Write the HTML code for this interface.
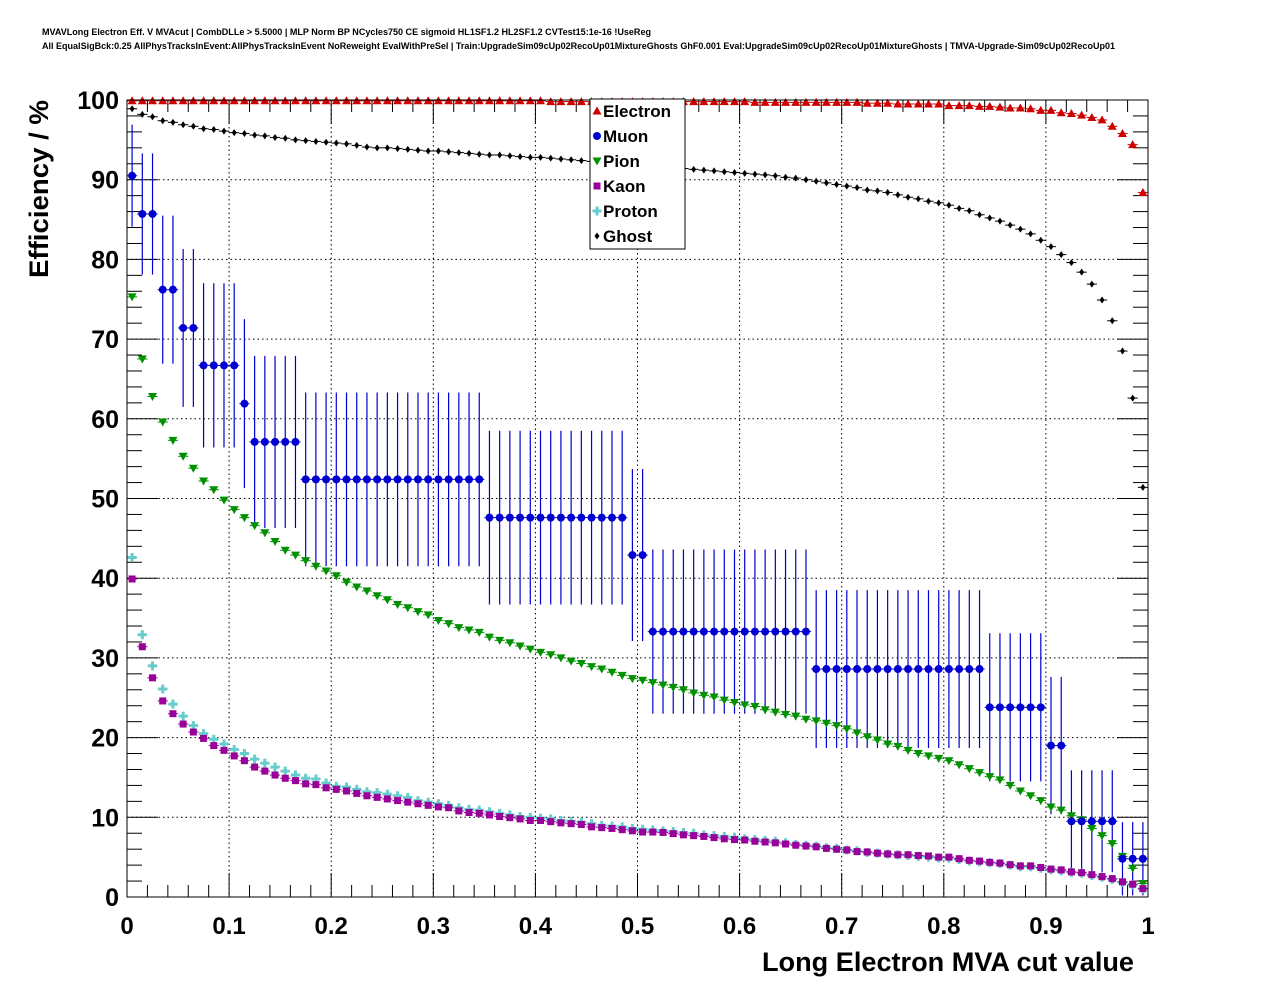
<!DOCTYPE html>
<html><head><meta charset="utf-8">
<style>
html,body{margin:0;padding:0;background:#fff;}
svg{display:block;font-family:"Liberation Sans",Arial,sans-serif;}
</style></head>
<body>
<svg id="chart" width="1276" height="996" viewBox="0 0 1276 996" xmlns="http://www.w3.org/2000/svg">
<rect x="0" y="0" width="1276" height="996" fill="#fff"/>
<text x="42" y="35" font-size="9" font-weight="bold" textLength="609" lengthAdjust="spacingAndGlyphs">MVAVLong Electron Eff. V MVAcut | CombDLLe &gt; 5.5000 | MLP Norm BP NCycles750 CE sigmoid HL1SF1.2 HL2SF1.2 CVTest15:1e-16 !UseReg</text>
<text x="42" y="49" font-size="9" font-weight="bold" textLength="1073" lengthAdjust="spacingAndGlyphs">All EqualSigBck:0.25 AllPhysTracksInEvent:AllPhysTracksInEvent NoReweight EvalWithPreSel | Train:UpgradeSim09cUp02RecoUp01MixtureGhosts GhF0.001 Eval:UpgradeSim09cUp02RecoUp01MixtureGhosts | TMVA-Upgrade-Sim09cUp02RecoUp01</text>
<g id="grid"></g>
<g id="ticks"></g>
<g id="series"></g>
<rect x="127" y="100" width="1021" height="797" fill="none" stroke="#000" stroke-width="1"/>
<text x="1134" y="971" font-size="27" font-weight="bold" text-anchor="end" textLength="372" lengthAdjust="spacingAndGlyphs">Long Electron MVA cut value</text>
<text transform="translate(48,189) rotate(-90)" font-size="27" font-weight="bold" text-anchor="middle" textLength="178" lengthAdjust="spacingAndGlyphs">Efficiency / %</text>
<g id="legend"></g>
</svg>
<script>
const xTickLabels = ["0","0.1","0.2","0.3","0.4","0.5","0.6","0.7","0.8","0.9","1"];
const yTickLabels = ["0","10","20","30","40","50","60","70","80","90","100"];
const seriesNames = ["Electron","Muon","Pion","Kaon","Proton","Ghost"];
const electron = [99.9,99.9,99.9,99.9,99.9,99.9,99.9,99.9,99.9,99.9,99.9,99.9,99.9,99.9,99.9,99.9,99.9,99.9,99.9,99.9,99.9,99.9,99.9,99.9,99.9,99.9,99.9,99.9,99.9,99.9,99.9,99.9,99.9,99.9,99.9,99.9,99.9,99.9,99.9,99.9,99.9,
99.8,99.8,99.8,99.8,99.8,99.8,99.8,99.8,99.8,99.8,99.8,99.8,99.8,99.8,99.8,99.8,99.8,99.8,99.8,99.8,
99.7,99.7,99.7,99.7,99.7,99.7,99.7,99.7,99.7,99.7,99.7,
99.6,99.6,99.6,99.5,99.5,99.5,99.5,99.5,99.3,99.3,99.3,99.2,99.2,99.1,99.0,99.0,98.9,98.7,98.7,98.4,98.3,98.1,97.8,97.5,96.7,95.8,94.4,88.4];
const ghost = [98.9,98.2,97.9,97.4,97.2,96.9,96.7,96.4,96.3,96.1,95.9,95.8,95.6,95.5,95.3,95.2,95.0,94.9,94.8,94.7,94.6,94.5,94.3,94.1,94.0,94.0,93.9,93.8,
93.7,93.6,93.6,93.5,93.4,93.3,93.2,93.1,93.1,93.0,92.9,92.8,92.8,92.7,92.6,92.5,92.4,92.3,92.2,92.1,92.0,91.9,91.8,91.7,91.6,91.5,91.4,91.3,91.2,91.1,91.0,90.9,90.8,90.7,90.6,90.5,90.3,90.2,90.0,89.8,89.6,89.4,89.2,89.0,
88.7,88.6,88.4,88.1,87.8,87.6,87.3,87.1,86.8,86.4,86.1,85.6,85.2,84.8,84.3,83.8,83.2,82.4,81.6,80.6,79.6,78.4,76.9,74.9,72.3,68.5,62.6,51.4];
const pion = [75.3,67.5,62.8,59.6,57.3,55.3,53.8,52.2,51.1,49.8,48.6,47.6,46.6,45.7,44.6,43.5,42.9,42.2,41.5,40.9,40.3,39.5,38.9,38.4,37.8,37.3,36.7,36.3,
35.8,35.4,34.7,34.3,33.8,33.5,33.2,32.6,32.2,31.9,31.5,31.1,30.7,30.4,30.0,29.6,29.3,28.9,28.6,28.2,27.8,27.4,27.2,26.9,26.6,26.3,26.0,25.6,25.3,25.1,24.7,24.4,24.1,23.9,23.5,23.2,22.9,
22.7,22.3,22.1,21.8,21.5,21.1,20.6,20.1,19.7,19.2,18.9,18.4,18.0,17.7,17.4,17.1,16.6,16.1,15.6,15.1,14.7,14.0,13.3,12.7,12.1,11.3,10.9,10.2,9.7,8.6,7.7,6.7,5.1,3.6,1.7];
const kaon = [39.9,31.4,27.5,24.6,23.0,21.7,20.7,19.9,19.0,18.4,17.7,17.1,16.3,15.8,15.3,14.9,14.6,14.2,14.1,13.7,13.5,13.3,13.0,12.7,12.5,12.3,12.1,11.9,
11.7,11.5,11.3,11.2,10.8,10.6,10.5,10.3,10.1,9.95,9.8,9.6,9.6,9.45,9.3,9.2,9.1,8.8,8.7,8.6,8.45,8.3,8.15,8.15,8.1,7.95,7.8,7.7,7.6,7.45,7.3,7.2,7.15,7.0,6.9,6.8,6.65,
6.5,6.4,6.3,6.1,6.0,5.9,5.7,5.65,5.5,5.4,5.3,5.3,5.2,5.15,5.0,5.0,4.8,4.6,4.5,4.35,4.25,4.05,3.9,3.9,3.7,3.5,3.4,3.15,3.05,2.8,2.55,2.3,1.9,1.6,1.05];
const proton = [42.6,32.9,29.0,26.1,24.2,22.7,21.5,20.5,19.8,19.2,18.5,18.0,17.3,16.8,16.3,15.8,15.3,14.9,14.8,14.3,13.9,13.8,13.5,13.2,13.1,12.9,12.7,12.5,
12.1,11.9,11.7,11.5,11.2,11.0,10.9,10.7,10.5,10.3,10.1,10.0,9.9,9.8,9.6,9.5,9.4,9.2,9.0,8.9,8.8,8.6,8.5,8.4,8.3,8.2,8.1,8.0,7.8,7.7,7.6,7.5,7.3,7.2,7.1,7.0,6.8,
6.6,6.5,6.4,6.2,6.1,5.9,5.8,5.6,5.5,5.4,5.3,5.2,5.1,5.0,4.9,4.9,4.7,4.5,4.4,4.3,4.2,4.0,3.8,3.8,3.6,3.4,3.3,3.1,3.0,2.7,2.5,2.2,1.8,1.5,1.0];
const muonLevels = [90.5,85.7,76.2,71.4,66.7,61.9,57.1,52.4,47.6,42.9,33.3,28.6,23.8,19.0,9.5,4.8];
const muonRunLengths = [1,2,2,2,4,1,5,18,14,2,16,17,6,2,5,3];
const muonErrors = [6.4,7.6,9.3,9.9,10.3,10.6,10.8,10.9,10.9,10.8,10.3,9.9,9.3,8.6,6.4,4.6];

const NS='http://www.w3.org/2000/svg';
const X0=127,X1=1148,Y0=897,Y1=100;
const xs=v=>X0+(X1-X0)*v;
const ys=v=>Y0-(Y0-Y1)*v/100;
function mk(tag,attrs,parent){const e=document.createElementNS(NS,tag);for(const k in attrs)e.setAttribute(k,attrs[k]);parent.appendChild(e);return e;}
const grid=document.getElementById('grid'),ticks=document.getElementById('ticks'),ser=document.getElementById('series'),leg=document.getElementById('legend');
const svg=document.getElementById('chart');

xTickLabels.forEach((lab,i)=>{
  const v=i/10,x=xs(v);
  if(i>0&&i<10){const g=mk('line',{x1:x,y1:Y1,x2:x,y2:Y0,stroke:'#000','stroke-width':1,'stroke-dasharray':'1.5,3'},grid);
  
  }
  const t=mk('text',{x:x,y:934,'font-size':24,'font-weight':'bold','text-anchor':'middle'},svg);
  t.textContent=lab;
  
  
});
yTickLabels.forEach((lab,i)=>{
  const v=i*10,y=ys(v);
  if(i>0&&i<10){const g=mk('line',{x1:X0,y1:y,x2:X1,y2:y,stroke:'#000','stroke-width':1,'stroke-dasharray':'1.5,3'},grid);
  
  }
  const t=mk('text',{x:119,y:y+9,'font-size':25,'font-weight':'bold','text-anchor':'end'},svg);
  t.textContent=lab;
  
  
});
for(let k=0;k<=50;k++){
  const x=xs(k/50),major=k%5===0,L=major?24:12;
  mk('line',{x1:x,y1:Y0,x2:x,y2:Y0-L,stroke:'#000','stroke-width':1},ticks);
  mk('line',{x1:x,y1:Y1,x2:x,y2:Y1+L,stroke:'#000','stroke-width':1},ticks);
}
for(let k=0;k<=50;k++){
  const y=ys(k*2),major=k%5===0,L=major?31:15;
  mk('line',{x1:X0,y1:y,x2:X0+L,y2:y,stroke:'#000','stroke-width':1},ticks);
  mk('line',{x1:X1,y1:y,x2:X1-L,y2:y,stroke:'#000','stroke-width':1},ticks);
}

function marker(type,cx,cy,color,parent){
  let e;
  if(type==='tri') e=mk('polygon',{points:`${cx-4.5},${cy+3.5} ${cx+4.5},${cy+3.5} ${cx},${cy-4.5}`,fill:color},parent);
  else if(type==='itri') e=mk('polygon',{points:`${cx-4.5},${cy-3.5} ${cx+4.5},${cy-3.5} ${cx},${cy+4.5}`,fill:color},parent);
  else if(type==='circ') e=mk('circle',{cx:cx,cy:cy,r:4,fill:color},parent);
  else if(type==='sq') e=mk('rect',{x:cx-3.5,y:cy-3.5,width:7,height:7,fill:color},parent);
  else if(type==='cross') e=mk('path',{d:`M${cx-1.5},${cy-4.5}h3v3h3v3h-3v3h-3v-3h-3v-3h3z`,fill:color},parent);
  else e=mk('path',{d:`M${cx},${cy-3.5}L${cx+2.5},${cy}L${cx},${cy+3.5}L${cx-2.5},${cy}z`,fill:color},parent);
  return e;
}
const binW=(X1-X0)/100;
function drawSeries(vals,type,color,name){
  const g=mk('g',{},ser);
  
  
  vals.forEach((v,i)=>{
    const cx=xs((i+0.5)/100),cy=ys(v);
    mk('line',{x1:cx-binW/2,y1:cy,x2:cx+binW/2,y2:cy,stroke:color,'stroke-width':1},g);
    const m=marker(type,cx,cy,color,g);
    
    
  });
}
const muon=[],muonErr=[];
muonLevels.forEach((lv,j)=>{for(let r=0;r<muonRunLengths[j];r++){muon.push(lv);muonErr.push(muonErrors[j]);}});
const mg=mk('g',{},ser);


muon.forEach((v,i)=>{
  const cx=xs((i+0.5)/100);
  const top=ys(Math.min(100,v+muonErr[i])),bot=ys(Math.max(0,v-muonErr[i]));
  mk('line',{x1:cx,y1:top,x2:cx,y2:bot,stroke:'#0000d0','stroke-width':1.2},mg);
});
drawSeries(electron,'tri','#d00000','electron');
drawSeries(ghost,'dia','#000000','ghost');
drawSeries(pion,'itri','#009000','pion');
drawSeries(proton,'cross','#66cccc','proton');
drawSeries(kaon,'sq','#990099','kaon');
drawSeries(muon,'circ','#0000d0','muon');

mk('rect',{x:590,y:99,width:95,height:150,fill:'#fff',stroke:'#000','stroke-width':1},leg);
const legTypes=['tri','circ','itri','sq','cross','dia'];
const legColors=['#d00000','#0000d0','#009000','#990099','#66cccc','#000000'];
seriesNames.forEach((n,i)=>{
  const y=111+i*25;
  const m=marker(legTypes[i],597,y,legColors[i],leg);
  
  
  const t=mk('text',{x:603,y:y+6,'font-size':17,'font-weight':'bold'},leg);
  t.textContent=n;
  
  
});
</script>
</body></html>
